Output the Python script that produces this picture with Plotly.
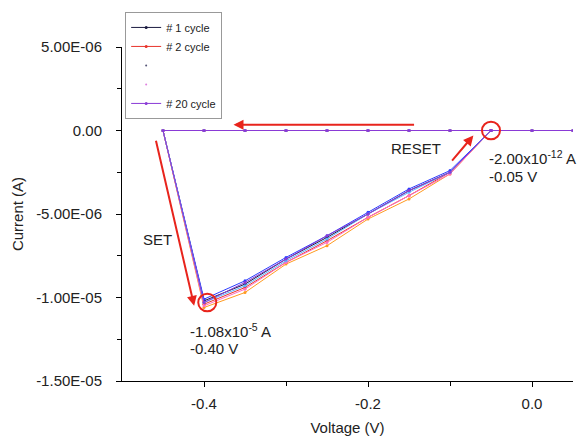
import plotly.graph_objects as go

# ---- data ----
v_zero = [0.05, 0.0, -0.05, -0.10, -0.15, -0.20, -0.25, -0.30, -0.35, -0.40, -0.45]
v_ret = [-0.40, -0.35, -0.30, -0.25, -0.20, -0.15, -0.10, -0.05]

cycle_names = ["# 1 cycle", "# 2 cycle", "c3", "c4", "c5", "c6", "# 20 cycle"]
cycle_colors = ["#1a1a40", "#e8332b", "#2b3cff", "#ff9a1f", "#ff6fc0", "#5fb0ff", "#8a3ad6"]
cycle_legend = [True, True, False, False, False, False, True]
# current on return branch (A)
i_c1 = [-10.2e-6, -9.2e-6, -7.7e-6, -6.4e-6, -5.0e-6, -3.6e-6, -2.5e-6, -2e-12]
i_c2 = [-10.4e-6, -9.4e-6, -7.9e-6, -6.6e-6, -5.2e-6, -3.9e-6, -2.5e-6, -2e-12]
i_c3 = [-10.1e-6, -9.0e-6, -7.6e-6, -6.3e-6, -4.9e-6, -3.5e-6, -2.4e-6, -2e-12]
i_c4 = [-10.6e-6, -9.7e-6, -8.0e-6, -6.9e-6, -5.3e-6, -4.1e-6, -2.6e-6, -2e-12]
i_c5 = [-10.5e-6, -9.5e-6, -7.9e-6, -6.7e-6, -5.2e-6, -3.9e-6, -2.6e-6, -2e-12]
i_c6 = [-10.3e-6, -9.3e-6, -7.8e-6, -6.5e-6, -5.0e-6, -3.7e-6, -2.5e-6, -2e-12]
i_c20 = [-10.3e-6, -9.1e-6, -7.7e-6, -6.3e-6, -5.0e-6, -3.6e-6, -2.5e-6, -2e-12]
cycle_currents = [i_c1, i_c2, i_c3, i_c4, i_c5, i_c6, i_c20]

y_tickvals = [5e-6, 0, -5e-6, -1e-5, -1.5e-5]
y_ticktext = ["5.00E-06", "0.00", "-5.00E-06", "-1.00E-05", "-1.50E-05"]
x_tickvals = [-0.4, -0.2, 0.0]
x_ticktext = ["-0.4", "-0.2", "0.0"]

# annotation points
set_point = (-0.396, -1.03e-5)
reset_point = (-0.05, 0.0)

FONT = "Liberation Sans, Arial, sans-serif"
RED = "#e8241c"
TXT = "#222222"

fig = go.Figure()

def add_cycle(idx):
    x = v_zero + v_ret
    y = [0.0] * len(v_zero) + cycle_currents[idx]
    fig.add_trace(go.Scatter(
        x=x, y=y, mode="lines+markers", name=cycle_names[idx],
        line=dict(color=cycle_colors[idx], width=1),
        marker=dict(color=cycle_colors[idx], size=3),
        showlegend=cycle_legend[idx]))

add_cycle(0)
add_cycle(1)
# placeholder legend rows (dots)
fig.add_trace(go.Scatter(x=[None], y=[None], mode="markers", name=" ",
                         marker=dict(color="#555577", size=2)))
fig.add_trace(go.Scatter(x=[None], y=[None], mode="markers", name=" ",
                         marker=dict(color="#e080e0", size=2)))
for k in range(2, 6):
    add_cycle(k)
add_cycle(6)

# circles
rx, ry = 0.011, 0.53e-6
for (cx, cy) in [reset_point, set_point]:
    fig.add_shape(type="circle", xref="x", yref="y",
                  x0=cx - rx, x1=cx + rx, y0=cy - ry, y1=cy + ry,
                  line=dict(color=RED, width=2))

def arrow(x_tail, y_tail, x_head, y_head):
    fig.add_annotation(x=x_head, y=y_head, ax=x_tail, ay=y_tail,
                       xref="x", yref="y", axref="x", ayref="y",
                       showarrow=True, arrowhead=2, arrowsize=1,
                       arrowwidth=2, arrowcolor=RED, text="")

arrow(-0.142, 0.35e-6, -0.364, 0.35e-6)
arrow(-0.459, -0.53e-6, -0.412, -10.5e-6)
arrow(-0.099, -1.9e-6, -0.0715, -0.3e-6)

def label(x, y, text, xanchor="left"):
    fig.add_annotation(x=x, y=y, xref="x", yref="y", text=text, showarrow=False,
                       xanchor=xanchor, yanchor="middle",
                       font=dict(family=FONT, size=15, color=TXT))

label(-0.457, -6.5e-6, "SET", "center")
label(-0.141, -1.07e-6, "RESET", "center")
label(-0.055, -1.6e-6, "-2.00x10<sup>-12</sup> A")
label(-0.055, -2.75e-6, "-0.05 V")
label(-0.420, -11.95e-6, "-1.08x10<sup>-5</sup> A")
label(-0.420, -13.05e-6, "-0.40 V")

fig.update_layout(
    width=588, height=436,
    margin=dict(l=122, r=15, t=43, b=55),
    paper_bgcolor="white", plot_bgcolor="white",
    font=dict(family=FONT, size=15, color=TXT),
    legend=dict(x=0.007, y=1.105, xanchor="left", yanchor="top",
                bgcolor="white", bordercolor="#999999", borderwidth=1,
                font=dict(family=FONT, size=11, color=TXT),
                tracegroupgap=0, itemwidth=30),
)
fig.update_xaxes(range=[-0.5, 0.05], showline=True, linecolor="black", linewidth=1,
                 automargin=False,
                 showgrid=False, zeroline=False, ticks="outside", ticklen=5,
                 tickcolor="black", tickvals=x_tickvals, ticktext=x_ticktext,
                 tickfont=dict(family=FONT, size=15, color=TXT),
                 minor=dict(ticks="outside", tickvals=[-0.3, -0.1], ticklen=4, tickcolor="black"),
                 ticklabelstandoff=4,
                 title=dict(text="Voltage (V)", standoff=15,
                            font=dict(family=FONT, size=15, color=TXT)))
fig.update_yaxes(range=[-1.5e-5, 5e-6], showline=True, linecolor="black", linewidth=1,
                 automargin=False,
                 showgrid=False, zeroline=False, ticks="outside", ticklen=5,
                 tickcolor="black", tickvals=y_tickvals, ticktext=y_ticktext,
                 tickfont=dict(family=FONT, size=15, color=TXT),
                 minor=dict(ticks="outside", tickvals=[2.5e-6, -2.5e-6, -7.5e-6, -12.5e-6],
                            ticklen=4, tickcolor="black"),
                 ticklabelstandoff=11,
                 title=dict(text="Current (A)", standoff=8,
                            font=dict(family=FONT, size=15, color=TXT)))

fig.write_html("out.html")
